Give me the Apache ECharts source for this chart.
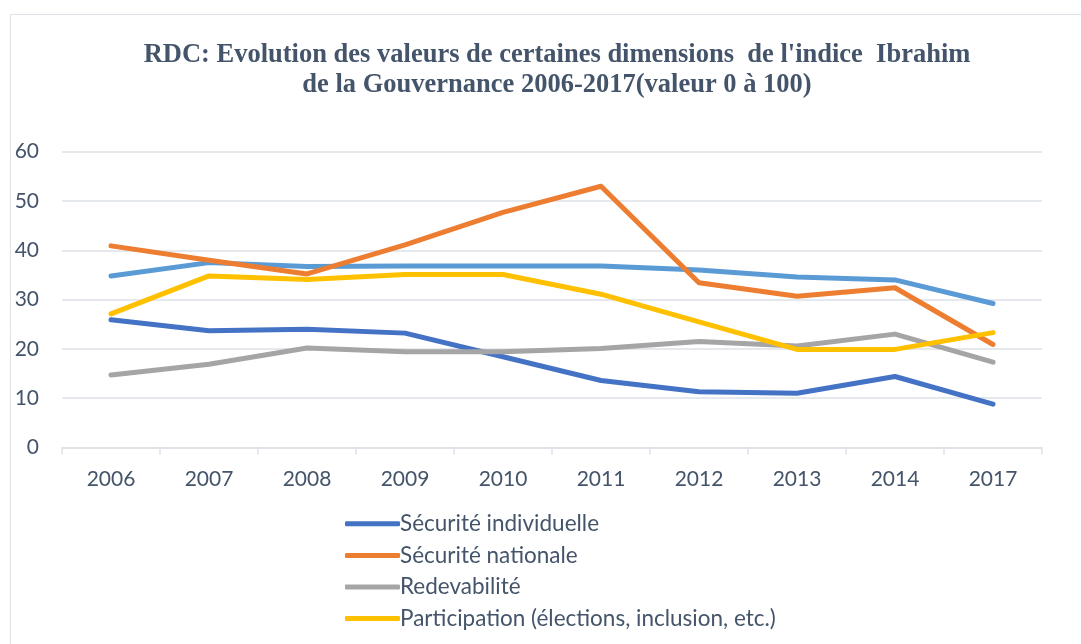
<!DOCTYPE html>
<html>
<head>
<meta charset="utf-8">
<script src="https://cdn.jsdelivr.net/npm/echarts@6/dist/echarts.min.js"></script>
<style>
html,body{margin:0;padding:0;background:#fff;}
#c{width:1081px;height:644px;}
</style>
</head>
<body>
<div id="c"></div>
<script>
const titleText = "RDC: Evolution des valeurs de certaines dimensions  de l'indice  Ibrahim\nde la Gouvernance 2006-2017(valeur 0 à 100)";
const years = ['2006','2007','2008','2009','2010','2011','2012','2013','2014','2017'];
const yTicks = [0, 60, 10];
const securiteIndividuelle = [25.9, 23.7, 24.0, 23.2, 18.4, 13.6, 11.3, 11.0, 14.4, 8.8];
const securiteNationale   = [40.9, 38.0, 35.2, 41.1, 47.7, 53.0, 33.4, 30.7, 32.4, 20.9];
const redevabilite        = [14.7, 16.9, 20.2, 19.4, 19.4, 20.1, 21.5, 20.6, 23.0, 17.3];
const participation       = [27.1, 34.8, 34.1, 35.1, 35.1, 31.1, 25.5, 19.9, 19.9, 23.3];
const cinquiemeSerie      = [34.8, 37.5, 36.7, 36.8, 36.8, 36.8, 36.0, 34.6, 34.0, 29.2];
const seriesNames = ['Sécurité individuelle','Sécurité nationale','Redevabilité','Participation (élections, inclusion, etc.)','Série 5'];
const seriesColors = ['#4472C4','#ED7D31','#A5A5A5','#FFC000','#5B9BD5'];
const seriesData = [securiteIndividuelle, securiteNationale, redevabilite, participation, cinquiemeSerie];

const chart = echarts.init(document.getElementById('c'), null, {renderer:'canvas'});
const textColor = '#44546A';
const lineColor = '#DDE2E8';
const order = [4, 0, 1, 2, 3];
chart.setOption({
  animation: false,
  backgroundColor: '#fff',
  graphic: [{
    type: 'rect', silent: true, z: -1,
    shape: {x: 10.5, y: 14.5, width: 1100, height: 700},
    style: {fill: '#fff', stroke: lineColor, lineWidth: 1}
  }],
  title: {
    text: titleText,
    left: 552, top: 35, textAlign: 'center',
    textStyle: {fontFamily: '"Liberation Serif", "DejaVu Serif", serif', fontWeight: 'bold', fontSize: 26.5, lineHeight: 30, color: textColor}
  },
  legend: {
    data: seriesNames.slice(0, 4),
    orient: 'vertical', left: 340, top: 503,
    itemWidth: 55, itemHeight: 5, itemGap: 0,
    icon: 'roundRect',
    textStyle: {fontFamily: 'Lato, "Open Sans", sans-serif', fontSize: 22.5, lineHeight: 31.6, color: textColor, padding: [0,0,0,-5]}
  },
  grid: {left: 62, right: 39, top: 151.7, bottom: 196.5, containLabel: false},
  xAxis: {
    type: 'category', data: years, boundaryGap: true,
    axisLine: {lineStyle: {color: lineColor, width: 1.5}},
    axisTick: {show: true, length: 7, lineStyle: {color: lineColor, width: 1.5}},
    axisLabel: {margin: 21, fontFamily: 'Lato, "Open Sans", sans-serif', fontSize: 21, color: textColor}
  },
  yAxis: {
    type: 'value', min: yTicks[0], max: yTicks[1], interval: yTicks[2],
    axisLine: {show: false}, axisTick: {show: false},
    splitLine: {lineStyle: {color: lineColor, width: 1.5}},
    axisLabel: {margin: 23, fontFamily: 'Lato, "Open Sans", sans-serif', fontSize: 21, color: textColor}
  },
  series: order.map(i => ({
    name: seriesNames[i], type: 'line', data: seriesData[i],
    showSymbol: false, symbol: 'none',
    color: seriesColors[i],
    lineStyle: {color: seriesColors[i], width: 5, cap: 'round', join: 'round'}
  }))
});
</script>
</body>
</html>
